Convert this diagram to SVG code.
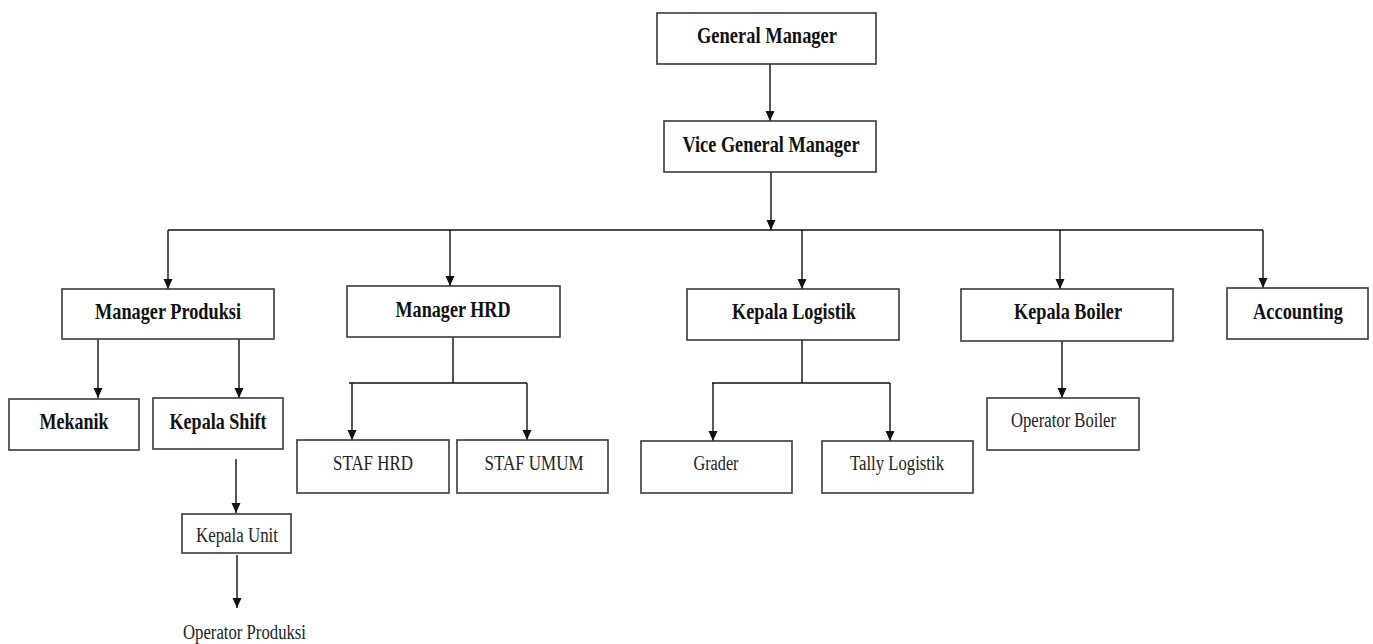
<svg xmlns="http://www.w3.org/2000/svg" width="1373" height="644" viewBox="0 0 1373 644">
<style>
.box{fill:#fff;stroke:#3a3a3a;stroke-width:1.6}
.b{font-family:"Liberation Serif","Times New Roman",serif;font-weight:bold;font-size:23px;fill:#111;text-anchor:middle}
.r{font-family:"Liberation Serif","Times New Roman",serif;font-size:20px;fill:#222;text-anchor:middle}
.ln{stroke:#111;stroke-width:1.4;fill:none}
</style>
<defs>
<marker id="ah" markerUnits="userSpaceOnUse" markerWidth="10" markerHeight="10" refX="10" refY="4.5" orient="auto">
<path d="M0,0 L10,4.5 L0,9 z" fill="#111"/>
</marker>
</defs>
<rect width="1373" height="644" fill="#fff"/>
<g id="connectors">
<line class="ln" x1="770" y1="64" x2="770" y2="121" marker-end="url(#ah)"/>
<line class="ln" x1="771" y1="172" x2="771" y2="230" marker-end="url(#ah)"/>
<line class="ln" x1="168" y1="230" x2="1263" y2="230"/>
<line class="ln" x1="168" y1="230" x2="168" y2="289" marker-end="url(#ah)"/>
<line class="ln" x1="450" y1="230" x2="450" y2="286" marker-end="url(#ah)"/>
<line class="ln" x1="802" y1="230" x2="802" y2="289" marker-end="url(#ah)"/>
<line class="ln" x1="1060" y1="230" x2="1060" y2="289" marker-end="url(#ah)"/>
<line class="ln" x1="1263" y1="230" x2="1263" y2="288" marker-end="url(#ah)"/>
<line class="ln" x1="98" y1="339" x2="98" y2="398" marker-end="url(#ah)"/>
<line class="ln" x1="239" y1="339" x2="239" y2="398" marker-end="url(#ah)"/>
<line class="ln" x1="236" y1="459" x2="236" y2="513" marker-end="url(#ah)"/>
<line class="ln" x1="237" y1="555" x2="237" y2="608" marker-end="url(#ah)"/>
<line class="ln" x1="453" y1="337" x2="453" y2="383"/>
<line class="ln" x1="349" y1="383" x2="527" y2="383"/>
<line class="ln" x1="352" y1="383" x2="352" y2="440" marker-end="url(#ah)"/>
<line class="ln" x1="527" y1="383" x2="527" y2="440" marker-end="url(#ah)"/>
<line class="ln" x1="802" y1="340" x2="802" y2="383"/>
<line class="ln" x1="712" y1="383" x2="890" y2="383"/>
<line class="ln" x1="713" y1="383" x2="713" y2="441" marker-end="url(#ah)"/>
<line class="ln" x1="890" y1="383" x2="890" y2="441" marker-end="url(#ah)"/>
<line class="ln" x1="1062" y1="341" x2="1062" y2="398" marker-end="url(#ah)"/>
</g>
<g id="gm"><rect class="box" x="657" y="13" width="219" height="51"/><text class="b" x="767" y="43" textLength="140" lengthAdjust="spacingAndGlyphs">General Manager</text></g>
<g id="vgm"><rect class="box" x="664" y="121" width="212" height="51"/><text class="b" x="771" y="152" textLength="177" lengthAdjust="spacingAndGlyphs">Vice General Manager</text></g>
<g id="mprod"><rect class="box" x="62" y="289" width="212" height="50"/><text class="b" x="168" y="319" textLength="146" lengthAdjust="spacingAndGlyphs">Manager Produksi</text></g>
<g id="mhrd"><rect class="box" x="347" y="286" width="213" height="51"/><text class="b" x="453" y="317" textLength="115" lengthAdjust="spacingAndGlyphs">Manager HRD</text></g>
<g id="klog"><rect class="box" x="687" y="289" width="212" height="51"/><text class="b" x="794" y="319" textLength="124" lengthAdjust="spacingAndGlyphs">Kepala Logistik</text></g>
<g id="kboiler"><rect class="box" x="961" y="289" width="212" height="52"/><text class="b" x="1068" y="319" textLength="108" lengthAdjust="spacingAndGlyphs">Kepala Boiler</text></g>
<g id="acc"><rect class="box" x="1227" y="288" width="141" height="51"/><text class="b" x="1298" y="319" textLength="90" lengthAdjust="spacingAndGlyphs">Accounting</text></g>
<g id="mekanik"><rect class="box" x="9" y="399" width="130" height="51"/><text class="b" x="74" y="429" textLength="69" lengthAdjust="spacingAndGlyphs">Mekanik</text></g>
<g id="kshift"><rect class="box" x="153" y="398" width="130" height="51"/><text class="b" x="218" y="429" textLength="97" lengthAdjust="spacingAndGlyphs">Kepala Shift</text></g>
<g id="kunit"><rect class="box" x="182" y="514" width="109" height="39"/><text class="r" x="237" y="542" textLength="82" lengthAdjust="spacingAndGlyphs">Kepala Unit</text></g>
<g id="opprod"><text class="r" x="244.5" y="639" textLength="123" lengthAdjust="spacingAndGlyphs">Operator Produksi</text></g>
<g id="stafhrd"><rect class="box" x="297" y="440" width="152" height="53"/><text class="r" x="373" y="470" textLength="80" lengthAdjust="spacingAndGlyphs">STAF HRD</text></g>
<g id="stafumum"><rect class="box" x="457" y="440" width="151" height="53"/><text class="r" x="534" y="470" textLength="99" lengthAdjust="spacingAndGlyphs">STAF UMUM</text></g>
<g id="grader"><rect class="box" x="641" y="441" width="151" height="52"/><text class="r" x="716" y="470" textLength="45" lengthAdjust="spacingAndGlyphs">Grader</text></g>
<g id="tally"><rect class="box" x="822" y="441" width="151" height="52"/><text class="r" x="897" y="470" textLength="94" lengthAdjust="spacingAndGlyphs">Tally Logistik</text></g>
<g id="opboiler"><rect class="box" x="987" y="398" width="152" height="52"/><text class="r" x="1063.5" y="427" textLength="105" lengthAdjust="spacingAndGlyphs">Operator Boiler</text></g>
</svg>
